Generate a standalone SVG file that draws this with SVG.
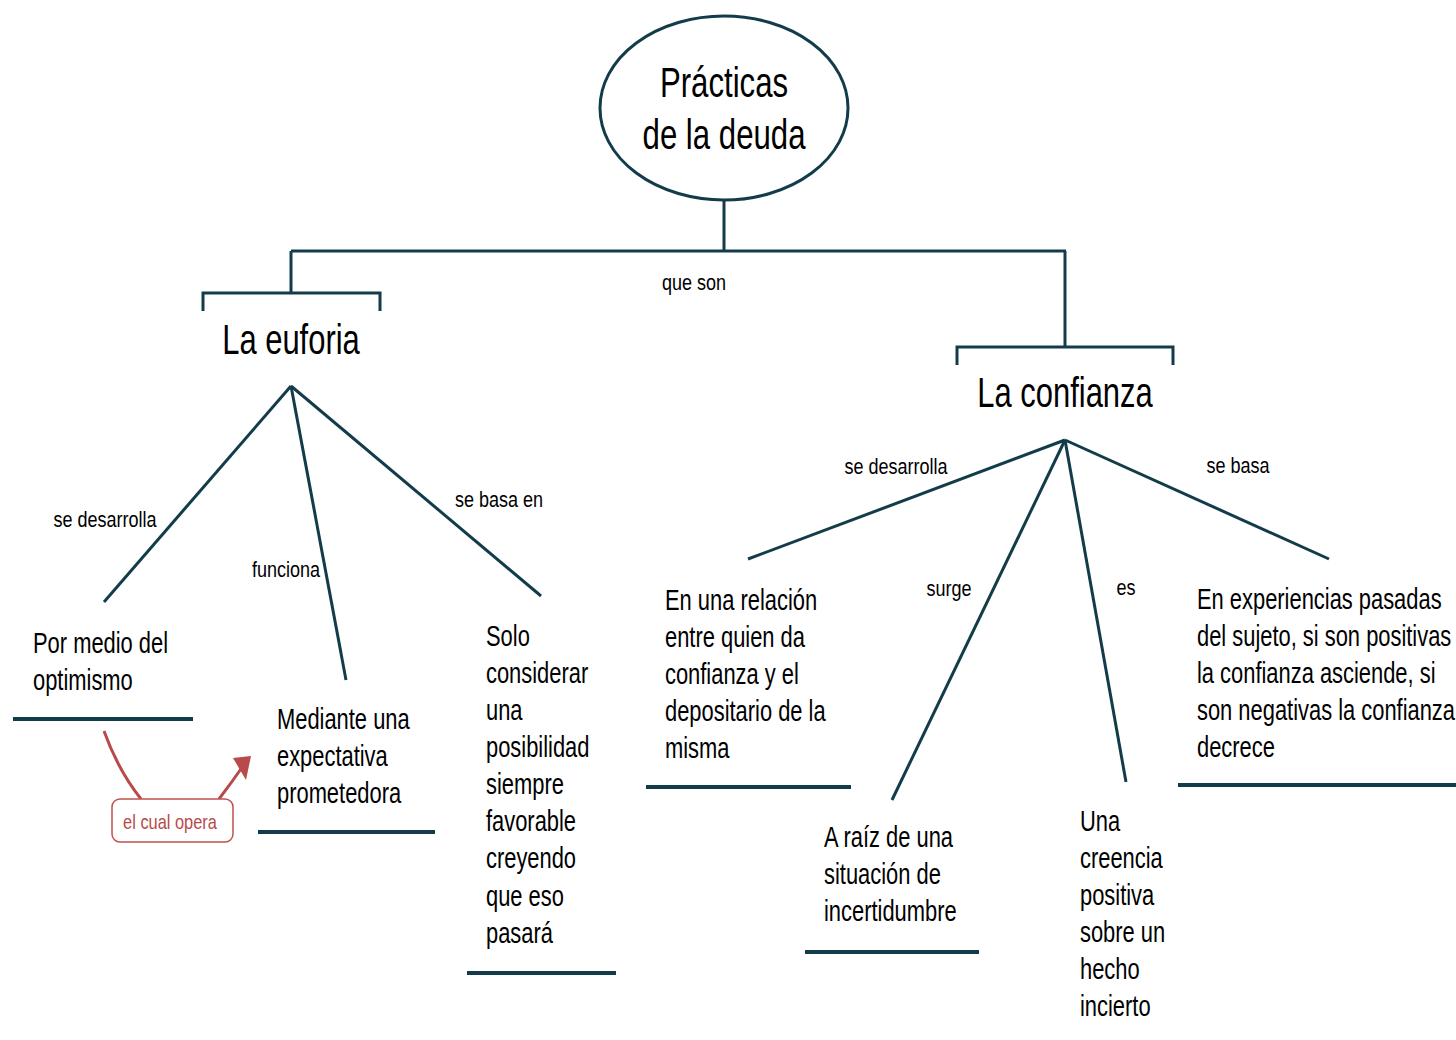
<svg xmlns="http://www.w3.org/2000/svg" width="1456" height="1040" viewBox="0 0 1456 1040">
<defs>
<style>
.t{font-family:"Liberation Sans","Arial",sans-serif;fill:#000;}
.big{font-size:43px;}
.node{font-size:29px;}
.lbl{font-size:22px;}
.ln{stroke:#133c4a;stroke-width:3;fill:none;}
.ul{stroke:#133c4a;stroke-width:4;fill:none;}
.red{stroke:#b84a4a;stroke-width:3;fill:none;}
</style>
</defs>
<rect width="1456" height="1040" fill="#fff"/>

<g id="connectors">
<line class="ln" x1="724" y1="200" x2="724" y2="251"/>
<line class="ln" x1="291" y1="251" x2="1066" y2="251"/>
<line class="ln" x1="291" y1="251" x2="291" y2="292"/>
<line class="ln" x1="1065" y1="251" x2="1065" y2="346"/>
<polyline class="ln" points="203,311 203,293 380,293 380,311"/>
<polyline class="ln" points="957,365 957,347 1173,347 1173,365"/>
<line class="ln" x1="291" y1="386" x2="104" y2="602"/>
<line class="ln" x1="291" y1="386" x2="346" y2="680"/>
<line class="ln" x1="291" y1="386" x2="541" y2="596"/>
<line class="ln" x1="1065" y1="440" x2="748" y2="559"/>
<line class="ln" x1="1065" y1="440" x2="892" y2="800"/>
<line class="ln" x1="1065" y1="440" x2="1126" y2="782"/>
<line class="ln" x1="1065" y1="440" x2="1329" y2="559"/>
<path class="red" d="M104,731 Q118,770 141,799"/>
<path class="red" d="M219,799 Q232,782 243,766"/>
<path d="M233,758 L251,756 L246,780 z" fill="#b84a4a"/>
<g transform="translate(694 0) scale(0.82 1)"><text class="t lbl" x="0" y="290" text-anchor="middle">que son</text></g>
<g transform="translate(105 0) scale(0.82 1)"><text class="t lbl" x="0" y="527" text-anchor="middle">se desarrolla</text></g>
<g transform="translate(286 0) scale(0.82 1)"><text class="t lbl" x="0" y="577" text-anchor="middle">funciona</text></g>
<g transform="translate(499 0) scale(0.82 1)"><text class="t lbl" x="0" y="507" text-anchor="middle">se basa en</text></g>
<g transform="translate(896 0) scale(0.82 1)"><text class="t lbl" x="0" y="474" text-anchor="middle">se desarrolla</text></g>
<g transform="translate(949 0) scale(0.82 1)"><text class="t lbl" x="0" y="596" text-anchor="middle">surge</text></g>
<g transform="translate(1126 0) scale(0.82 1)"><text class="t lbl" x="0" y="595" text-anchor="middle">es</text></g>
<g transform="translate(1238 0) scale(0.82 1)"><text class="t lbl" x="0" y="473" text-anchor="middle">se basa</text></g>
</g>

<g id="root">
<ellipse cx="724" cy="108" rx="124" ry="92" fill="#fff" stroke="#133c4a" stroke-width="3"/>
<g transform="translate(724 0) scale(0.725 1)">
<text class="t big" x="0" y="97" text-anchor="middle">Prácticas</text>
<text class="t big" x="0" y="149" text-anchor="middle">de la deuda</text>
</g>
</g>

<g id="euforia" transform="translate(291 0) scale(0.72 1)">
<text class="t big" x="0" y="354" text-anchor="middle">La euforia</text>
</g>

<g id="confianza" transform="translate(1065 0) scale(0.72 1)">
<text class="t big" x="0" y="407" text-anchor="middle">La confianza</text>
</g>

<g id="optimismo">
<g transform="translate(33 0) scale(0.755 1)">
<text class="t node" x="0" y="653">Por medio del</text>
<text class="t node" x="0" y="690">optimismo</text>
</g>
<line class="ul" x1="13" y1="719" x2="193" y2="719"/>
</g>

<g id="expectativa">
<g transform="translate(277 0) scale(0.755 1)">
<text class="t node" x="0" y="729">Mediante una</text>
<text class="t node" x="0" y="766">expectativa</text>
<text class="t node" x="0" y="803">prometedora</text>
</g>
<line class="ul" x1="258" y1="832" x2="435" y2="832"/>
</g>

<g id="el-cual-opera">
<rect x="112" y="799" width="121" height="43" rx="8" fill="#fff" stroke="#c0504d" stroke-width="1.5"/>
<g transform="translate(170 0) scale(0.8 1)">
<text class="t" x="0" y="829" text-anchor="middle" font-size="20.5" style="fill:#b84a4a">el cual opera</text>
</g>
</g>

<g id="solo">
<g transform="translate(486 0) scale(0.755 1)">
<text class="t node" x="0" y="646">Solo</text>
<text class="t node" x="0" y="683">considerar</text>
<text class="t node" x="0" y="720">una</text>
<text class="t node" x="0" y="757">posibilidad</text>
<text class="t node" x="0" y="794">siempre</text>
<text class="t node" x="0" y="831">favorable</text>
<text class="t node" x="0" y="868">creyendo</text>
<text class="t node" x="0" y="906">que eso</text>
<text class="t node" x="0" y="943">pasará</text>
</g>
<line class="ul" x1="467" y1="973" x2="616" y2="973"/>
</g>

<g id="relacion">
<g transform="translate(665 0) scale(0.755 1)">
<text class="t node" x="0" y="610">En una relación</text>
<text class="t node" x="0" y="647">entre quien da</text>
<text class="t node" x="0" y="684">confianza y el</text>
<text class="t node" x="0" y="721">depositario de la</text>
<text class="t node" x="0" y="758">misma</text>
</g>
<line class="ul" x1="646" y1="787" x2="851" y2="787"/>
</g>

<g id="incertidumbre">
<g transform="translate(824 0) scale(0.755 1)">
<text class="t node" x="0" y="847">A raíz de una</text>
<text class="t node" x="0" y="884">situación de</text>
<text class="t node" x="0" y="921">incertidumbre</text>
</g>
<line class="ul" x1="805" y1="952" x2="979" y2="952"/>
</g>

<g id="creencia">
<g transform="translate(1080 0) scale(0.755 1)">
<text class="t node" x="0" y="831">Una</text>
<text class="t node" x="0" y="868">creencia</text>
<text class="t node" x="0" y="905">positiva</text>
<text class="t node" x="0" y="942">sobre un</text>
<text class="t node" x="0" y="979">hecho</text>
<text class="t node" x="0" y="1016">incierto</text>
</g>
</g>

<g id="experiencias">
<g transform="translate(1197 0) scale(0.755 1)">
<text class="t node" x="0" y="609">En experiencias pasadas</text>
<text class="t node" x="0" y="646">del sujeto, si son positivas</text>
<text class="t node" x="0" y="683">la confianza asciende, si</text>
<text class="t node" x="0" y="720">son negativas la confianza</text>
<text class="t node" x="0" y="757">decrece</text>
</g>
<line class="ul" x1="1178" y1="785" x2="1456" y2="785"/>
</g>
</svg>
